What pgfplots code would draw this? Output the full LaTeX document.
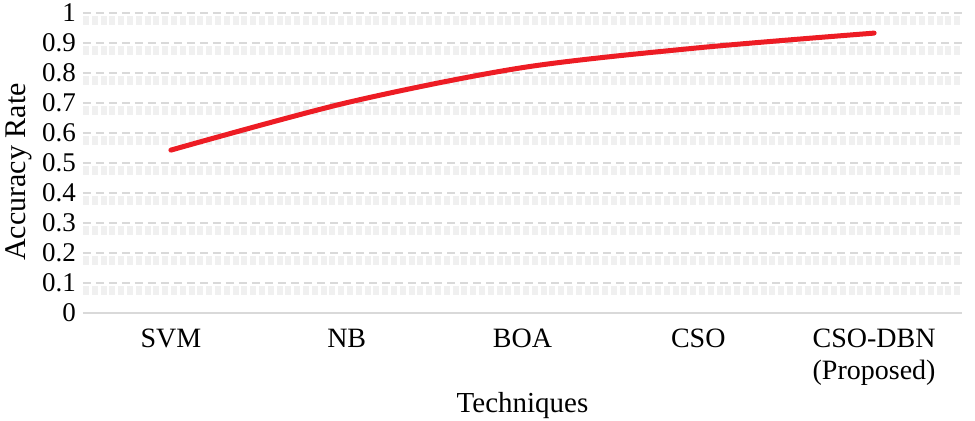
\documentclass[border=0pt]{standalone}
\usepackage{fontspec}
\setmainfont{Liberation Serif}
\usepackage{pgfplots}
\pgfplotsset{compat=1.18}
\definecolor{lred}{RGB}{237,28,36}
\definecolor{gridc}{RGB}{217,217,217}
\begin{document}
\begin{tikzpicture}
\begin{axis}[
  name=ax,
  scale only axis, width=439.5pt, height=150pt,
  xmin=-0.5, xmax=4.5, ymin=0, ymax=1,
  xtick={0,1,2,3,4},
  xticklabels={SVM,NB,BOA,CSO,{CSO-DBN\\(Proposed)}},
  xticklabel style={align=center, font=\fontsize{14}{16}\selectfont, yshift=-4.5pt},
  ytick={0.1,0.2,...,1.01},
  extra y ticks={0},
  extra y tick style={grid=none},
  yticklabel style={font=\fontsize{13.5}{13.5}\selectfont},
  /pgf/number format/assume math mode=true,
  major tick length=0pt,
  axis line style={draw=none},
  ymajorgrids,
  major grid style={gridc, line width=0.8pt, dash pattern=on 4pt off 2.5pt,
    preaction={draw, gray!12, line width=4.5pt, dash pattern=on 3pt off 1.4pt,
      transform canvas={yshift=-3.5pt}}},
  xlabel={Techniques}, ylabel={Accuracy Rate},
  xlabel style={font=\fontsize{14.5}{14.5}\selectfont, at={([yshift=-49.5pt]axis description cs:0.5,0)}, anchor=base},
  ylabel style={font=\fontsize{15}{15}\selectfont, at={([xshift=-28.5pt]axis description cs:0,0.47)}, anchor=base, rotate=0},
  clip=false,
]
\draw[gridc, line width=0.8pt] (axis cs:-0.5,0) -- (axis cs:4.5,0);
\addplot[lred, line width=2.5pt, smooth, tension=0.5, line cap=round] coordinates {
  (0,0.543) (1,0.701) (2,0.818) (3,0.884) (4,0.933)
};
\end{axis}
\pgfresetboundingbox
\path[use as bounding box] ([shift={(-41.5pt,-53.5pt)}]ax.south west) rectangle ([shift={(6.5pt,6.5pt)}]ax.north east);
\end{tikzpicture}
\end{document}
